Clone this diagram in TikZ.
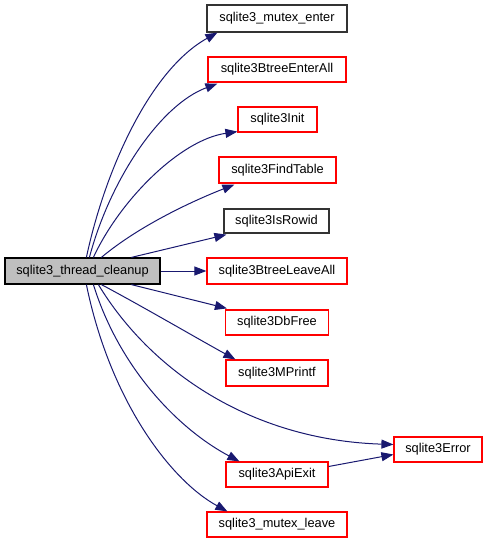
\documentclass[tikz,border=0pt]{standalone}
\usepackage{fontspec}
\setmainfont{Liberation Sans}
\usetikzlibrary{arrows.meta,calc}
\definecolor{edgeblue}{HTML}{191970}
\definecolor{boxred}{HTML}{FF0000}
\definecolor{maingray}{HTML}{BFBFBF}
\begin{document}
\begin{tikzpicture}[x=1bp,y=-1bp,
  fn/.style={draw=boxred,line width=1.2bp,fill=white,minimum height=25bp,inner sep=0pt,font=\fontsize{12.8bp}{14bp}\selectfont},
  fnblack/.style={fn,draw=black!80},
  mainbox/.style={fn,draw=black,fill=maingray},
  call/.style={draw=edgeblue,line width=1bp,-{Triangle[length=12bp,width=9bp]},fill=none}]
\useasboundingbox (0,0) rectangle (488,544);
\node[mainbox,minimum width=155bp,minimum height=26bp] (main) at (82.5,271) {sqlite3\_thread\_cleanup};
\node[fnblack,minimum width=140bp,minimum height=27bp] (me) at (277,18.5) {sqlite3\_mutex\_enter};
\node[fn,minimum width=138bp] (bea) at (277,69.5) {sqlite3BtreeEnterAll};
\node[fn,minimum width=79bp] (init) at (277.5,119.5) {sqlite3Init};
\node[fn,minimum width=117bp,minimum height=26bp] (ft) at (277.5,170) {sqlite3FindTable};
\node[fnblack,minimum width=105bp,minimum height=24bp] (rowid) at (276.5,221) {sqlite3IsRowid};
\node[fn,minimum width=140bp,minimum height=26bp] (bla) at (277,271) {sqlite3BtreeLeaveAll};
\node[fn,minimum width=103bp] (dbf) at (277,322.5) {sqlite3DbFree};
\node[fn,minimum width=102bp,minimum height=26bp] (mp) at (277,373) {sqlite3MPrintf};
\node[fn,minimum width=88bp] (err) at (438,449.5) {sqlite3Error};
\node[fn,minimum width=102bp] (api) at (277,474.5) {sqlite3ApiExit};
\node[fn,minimum width=140bp] (ml) at (277,524.5) {sqlite3\_mutex\_leave};

\draw[call] ($(main.north west)+(82,0)$) .. controls (105,170) and (150,70) .. ($(me.south west)+(11,0)$);
\draw[call] ($(main.north west)+(85,0)$) .. controls (110,180) and (160,105) .. ($(bea.south west)+(10,1)$);
\draw[call] ($(main.north west)+(89,0)$) .. controls (120,200) and (180,140) .. ($(init.south west)+(0,-1)$);
\draw[call] ($(main.north west)+(97,0)$) .. controls (140,225) and (195,200) .. ($(ft.south west)+(16,1)$);
\draw[call] ($(main.north west)+(127,0)$) -- ($(rowid.south west)+(3,1)$);
\draw[call] (main.east) -- (bla.west);
\draw[call] ($(main.south west)+(127,0)$) -- ($(dbf.north west)+(2,-1)$);
\draw[call] ($(main.south west)+(97,0)$) .. controls (140,305) and (200,340) .. ($(mp.north west)+(10,0)$);
\draw[call] ($(main.south west)+(94,0)$) .. controls (150,370) and (250,440) .. ($(err.west)+(0,-5)$);
\draw[call] ($(main.south west)+(89,0)$) .. controls (120,370) and (180,430) .. ($(api.north west)+(14,0)$);
\draw[call] ($(main.south west)+(82,0)$) .. controls (110,400) and (170,480) .. ($(ml.north west)+(21,0)$);
\draw[call] ($(api.east)+(0,-8)$) -- ($(err.west)+(0,5)$);
\end{tikzpicture}
\end{document}
